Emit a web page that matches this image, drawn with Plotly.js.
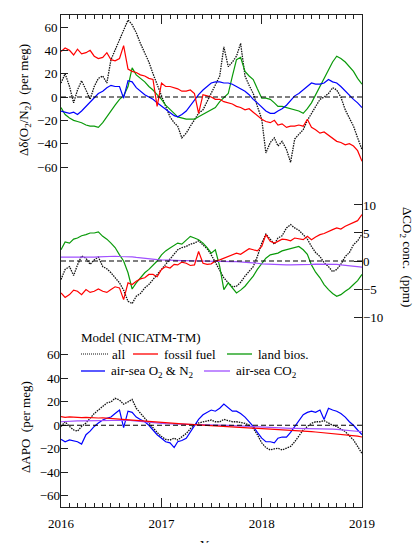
<!DOCTYPE html>
<html>
<head>
<meta charset="utf-8">
<script src="https://cdn.plot.ly/plotly-3.0.1.min.js"></script>
<style>html,body{margin:0;padding:0;background:#fff;}#chart{width:414px;height:543px;}</style>
</head>
<body>
<div id="chart"></div>
<script>
// semi-monthly dates 2016-01-01 .. 2019-01-01
const dates = [];
for (let y = 2016; y <= 2018; y++) {
  for (let m = 1; m <= 12; m++) {
    const mm = (m < 10 ? '0' : '') + m;
    dates.push(y + '-' + mm + '-01');
    dates.push(y + '-' + mm + '-16');
  }
}
dates.push('2019-01-01');

const yearTicks = ['2016-01-01', '2017-01-01', '2018-01-01', '2019-01-01'];
const yearLabels = ['2016', '2017', '2018', '2019'];
const leftTicks = [-60, -40, -20, 0, 20, 40, 60];
const rightTicks = [-10, -5, 0, 5, 10];

// ---- Top panel: Δδ(O2/N2) (per meg)
const o2All = [12,20, 9,-5, 6,14, 6,-2, 9,16, 18,12, 32,40, 49,58, 66,62, 55,46, 38,30, 20,10,
  1,-8, -17,-22, -25,-35, -31,-25, -19,-14, -11,-4, 3,10, 18,43, 26,30, 35,46, 18,10, 3,-8,
  -19,-48, -39,-35, -42,-38, -45,-56, -36,-32, -28,-20, -14,-8, -2,0, 3,8, 6,0, -11,-18, -25,-35, -45];
const o2Fossil = [39,42, 40,36, 41,37, 38,40, 35,33, 34,38, 32,31, 33,44, 24,22, 21,19, 18,16, 15,-8,
  12,9, 9,8, 7,5, 5,6, 3,-14, 2,1, 0,-2, -2,-4, -5,-6, -8,-9, -11,-10, -13,-16,
  -19,-21, -22,-20, -24,-23, -26,-25, -25,-24, -25,-19, -26,-28, -31,-30, -33,-35, -38,-39, -41,-40, -42,-46, -55];
const o2Land = [-9,-15, -18,-20, -21,-22, -24,-25, -25,-26, -22,-17, -11,-7, -2,1, 9,25, 19,16, 13,9, 6,2,
  -2,-7, -11,-14, -17,-18, -19,-19, -19,-17, -15,-13, -11,-9, -4,-1, 3,18, 32,34, 22,18, 15,7,
  -1,-1, -2,-5, -8,-8, -9,-10, -11,-12, -14,-10, -5,2, 9,16, 23,30, 35,33, 30,26, 22,16, 11];
const o2Ocean = [-12,-13, -14,-13, -15,-12, -8,-4, 0,3, 5,8, 10,9, 9,-1, 14,13, 8,5, 2,0, -2,-5,
  -8,-11, -14,-16, -17,-15, -12,-7, -2,2, 6,9, 12,13, 13,12, 12,11, 9,7, 5,2, -2,-5,
  -9,-12, -14,-14, -12,-10, -7,-3, 1,3, 6,9, 12,11, 11,12, 15,13, 12,9, 5,1, -2,-5, -9];

// ---- Middle panel: ΔCO2 conc. (ppm)
const co2All = [-3.3,-1.5, -1.0,-2.6, -0.7,0.9, 0.5,-0.6, 0.2,0.7, -1.0,-1.4, -2.1,-3.0, -3.9,-5.2, -7.2,-7.6, -6.3,-5.8, -4.8,-4.2, -3.3,-2.5,
  -1.5,-0.5, 0.5,1.3, 2.0,2.4, 2.6,3.0, 3.2,3.6, 2.9,2.2, 1.1,-0.2, -1.5,-3.0, -3.9,-4.6, -4.5,-3.8, -2.7,-1.8, -1.0,0.8,
  3.2,4.8, 3.8,3.0, 4.1,4.5, 5.9,6.5, 5.9,5.5, 4.7,3.9, 2.6,1.5, 0.8,-0.3, -1.0,-1.9, -1.5,-0.6, 0.8,1.5, 2.9,3.6, 4.8];
const co2Fossil = [-5.7,-6.5, -6.0,-5.2, -5.4,-6.0, -5.1,-5.6, -5.4,-5.0, -5.4,-5.6, -5.1,-4.6, -4.8,-6.9, -3.9,-4.2, -3.6,-3.2, -3.0,-2.4, -2.4,-2.8,
  -1.5,-1.0, -1.25,-0.6, -0.7,-0.2, -0.4,-0.8, -0.7,1.7, -0.4,-0.6, -0.5,0.0, 0.2,0.5, 0.8,1.0, 1.4,1.2, 1.7,2.2, 2.0,1.8,
  2.6,4.7, 3.5,3.2, 3.5,3.9, 3.8,3.6, 4.1,4.0, 3.8,4.4, 3.8,4.3, 4.7,4.9, 5.3,5.6, 5.9,5.7, 6.2,6.5, 6.8,7.2, 8.3];
const co2Land = [2.0,3.4, 3.2,3.9, 4.1,4.5, 4.7,5.0, 5.0,5.2, 4.4,3.9, 3.2,2.4, 1.1,0.0, -2.1,-5.0, -3.9,-3.0, -2.1,-1.5, -0.7,0.0,
  1.1,1.8, 2.3,2.8, 3.2,3.0, 3.8,4.4, 4.1,3.8, 3.2,2.4, 1.4,2.0, -1.0,-5.1, -3.9,-4.8, -5.7,-5.2, -4.5,-3.6, -2.7,-1.5,
  -0.4,0.5, 1.1,1.2, 1.4,1.8, 2.0,2.1, 2.3,2.6, 2.0,1.2, -0.7,-2.0, -3.0,-4.2, -5.1,-5.8, -6.3,-6.0, -5.4,-4.9, -4.2,-3.5, -2.4];
const co2Ocean = [0.7,0.7, 0.65,0.7, 0.6,0.6, 0.65,0.7, 0.7,0.75, 0.8,0.8, 0.8,0.85, 0.8,0.8, 0.8,0.75, 0.65,0.55, 0.45,0.35, 0.3,0.25,
  0.2,0.15, 0.1,0.1, 0.05,0.05, 0.05,0.0, 0.0,0.0, 0.0,-0.05, -0.05,-0.05, -0.05,-0.1, -0.1,-0.1, -0.1,-0.15, -0.15,-0.25, -0.3,-0.4,
  -0.5,-0.55, -0.6,-0.6, -0.65,-0.65, -0.7,-0.7, -0.7,-0.7, -0.65,-0.6, -0.6,-0.55, -0.55,-0.5, -0.5,-0.55, -0.6,-0.7, -0.8,-0.85, -0.9,-1.0, -1.1];

// ---- Bottom panel: ΔAPO (per meg)
const apoAll = [-1,3, -1,-4, -5,-1, 2,6, 10,13, 16,19, 20,23, 21.5,18, 20,22, 14.5,10, 6,2, -2.5,-6,
  -9.6,-12, -12.5,-11, -12.5,-10, -7,-3, 0.3,2, 3,4, 4.5,3, 3,5, 4,3, 3,2.5, 1.7,0, -2.5,-8,
  -15,-19, -21,-20, -19.6,-21, -19.6,-18, -14,-9, -4,-1, 1.7,3, 3,4, 1.7,0, -1,-3, -5.4,-9, -12.5,-18, -24];
const apoFossil = [7.4,6.8, 7.2,6.9, 7.0,6.6, 6.8,6.4, 6.5,6.2, 6.3,6.0, 6.0,5.6, 5.7,5.4, 4.5,4.8, 4.3,4.0, 3.8,3.5, 3.2,2.9,
  2.5,2.3, 2.0,1.7, 1.5,1.2, 1.0,0.8, 0.5,0.4, 0.2,0.1, 0.0,-0.3, -0.5,-0.7, -0.9,-1.1, -1.3,-1.5, -1.7,-1.9, -2.1,-2.4,
  -2.6,-2.9, -3.2,-3.4, -3.7,-3.9, -4.2,-4.4, -4.6,-4.8, -5.0,-5.2, -5.4,-5.7, -6.0,-6.3, -6.6,-6.9, -7.3,-7.6, -8.0,-8.4, -8.8,-9.2, -10];
const apoOceanO2 = [-12,-14, -12.5,-13, -14,-16, -8,-5, -1,2, 4.5,6, 7,10, 13,-2, 12,11, 7,5, 3,0, -4,-8,
  -11,-14, -15,-19, -14,-13, -11,-6, 0,5, 9,11, 13,12, 14.5,18, 14.5,12, 12,10, 7,3, -1,-6,
  -11,-14, -14,-15, -11,-10, -10,-6, -1,4, 9,11, 12,11, 13,5, 14.5,13, 12,10, 7,3, 0,-4, -8];
const apoOceanCO2 = [3,3.3, 3.5,3.6, 3.7,3.8, 3.9,4.0, 4.0,4.2, 4.3,4.4, 4.5,4.5, 4.5,4.4, 4.3,4.0, 3.6,3.2, 2.8,2.4, 2.0,1.8,
  1.7,1.4, 1.2,1.0, 0.9,0.8, 0.7,0.6, 0.6,0.6, 0.6,0.5, 0.5,0.4, 0.3,0.2, 0.0,-0.2, -0.4,-0.6, -0.8,-1.1, -1.3,-1.5,
  -1.7,-1.9, -2.1,-2.3, -2.4,-2.5, -2.6,-2.6, -2.6,-2.6, -2.6,-2.6, -2.6,-2.7, -2.8,-2.9, -3.0,-3.2, -3.5,-3.8, -4.1,-4.5, -4.9,-5.2, -5.5];

const C = {all: '#111111', ff: '#ff0000', land: '#0a9a0a', ocean: '#0000ff', oco2: '#a050ff'};
const FONT = '"Liberation Serif", "Times New Roman", Times, serif';

function tr(y, yaxis, color, dash) {
  return {x: dates, y: y, yaxis: yaxis, type: 'scatter', mode: 'lines',
    line: {color: color, width: dash ? 1.3 : 1.2, dash: dash || 'solid'}, showlegend: false, hoverinfo: 'skip'};
}
const DOTS = '1.5px,1px';

const data = [
  tr(o2All, 'y', C.all, DOTS), tr(o2Land, 'y', C.land), tr(o2Ocean, 'y', C.ocean), tr(o2Fossil, 'y', C.ff),
  tr(co2All, 'y2', C.all, DOTS), tr(co2Land, 'y2', C.land), tr(co2Ocean, 'y2', C.oco2), tr(co2Fossil, 'y2', C.ff),
  tr(apoAll, 'y3', C.all, DOTS), tr(apoOceanO2, 'y3', C.ocean), tr(apoOceanCO2, 'y3', C.oco2), tr(apoFossil, 'y3', C.ff)
];

// pixel helpers for paper coordinates (plot area 61..362 x 15..507)
const px = v => (v - 61) / 301;
const py = v => (507 - v) / 492;

const zeroLine = yref => ({type: 'line', xref: 'paper', x0: 0, x1: 1, yref: yref, y0: 0, y1: 0,
  line: {color: '#000', width: 1.1, dash: '5px,3px'}});
const legLine = (x0, x1, y, color, dash) => ({type: 'line', xref: 'paper', yref: 'paper',
  x0: px(x0), x1: px(x1), y0: py(y), y1: py(y), line: {color: color, width: dash ? 1.1 : 1.3, dash: dash || 'solid'}});

const TF = {family: FONT, size: 13, color: '#000'};
const ann = (text, x, y, opts) => Object.assign({text: text, xref: 'paper', yref: 'paper', x: px(x), y: py(y),
  showarrow: false, xanchor: 'left', yanchor: 'middle', font: TF}, opts || {});

const layout = {
  width: 414, height: 543,
  margin: {l: 61, r: 52, t: 15, b: 36},
  paper_bgcolor: '#fff', plot_bgcolor: '#fff',
  font: TF,
  showlegend: false,
  xaxis: {type: 'date', range: ['2016-01-01', '2019-01-01'], tickvals: yearTicks, ticktext: yearLabels,
    ticks: 'inside', ticklen: 9, tickwidth: 1, tickcolor: '#222', showline: true, linecolor: '#222', linewidth: 1,
    mirror: 'ticks', showgrid: false, zeroline: false, ticklabelstandoff: 4, tickfont: TF,
    minor: {dtick: 'M1', ticks: 'inside', ticklen: 4, tickcolor: '#222', showgrid: false}},
  yaxis: {range: [-351.4, 70.3], tickvals: leftTicks, ticks: 'inside', ticklen: 7, tickcolor: '#222', tickfont: TF,
    showline: true, linecolor: '#222', linewidth: 1, mirror: true, showgrid: false, zeroline: false},
  yaxis2: {range: [-43.9, 43.9], overlaying: 'y', side: 'right', tickvals: rightTicks, ticks: 'inside', ticklen: 8,
    tickfont: TF, tickcolor: '#222', showline: false, showgrid: false, zeroline: false},
  yaxis3: {range: [-69.6, 349.5], overlaying: 'y', side: 'left', tickvals: leftTicks, ticks: 'inside', ticklen: 7,
    tickfont: TF, tickcolor: '#222', showline: false, showgrid: false, zeroline: false},
  shapes: [
    zeroLine('y'), zeroLine('y2'), zeroLine('y3'),
    legLine(81, 108, 354, C.all, '1px,1px'), legLine(133, 158, 354, C.ff), legLine(227, 252, 354, C.land),
    legLine(81, 105, 371, C.ocean), legLine(204, 230, 371, C.oco2)
  ],
  annotations: [
    ann('Model (NICATM-TM)', 79, 337),
    ann('all', 110, 354), ann('fossil fuel', 162, 354), ann('land bios.', 256, 354),
    ann('air-sea O<sub>2</sub> &amp; N<sub>2</sub>', 109, 371), ann('air-sea CO<sub>2</sub>', 234, 371),
    ann('Δδ(O<sub>2</sub>/N<sub>2</sub>)\u00a0\u00a0(per meg)', 25, 100, {xanchor: 'center', textangle: -90}),
    ann('ΔAPO\u00a0\u00a0(per meg)', 25, 427, {xanchor: 'center', textangle: -90}),
    ann('ΔCO<sub>2</sub> conc.\u00a0\u00a0(ppm)', 407, 257, {xanchor: 'center', textangle: 90}),
    ann('Year', 212, 535, {xanchor: 'center', yanchor: 'top'})
  ]
};

Plotly.newPlot('chart', data, layout, {staticPlot: true, displayModeBar: false});
</script>
</body>
</html>
